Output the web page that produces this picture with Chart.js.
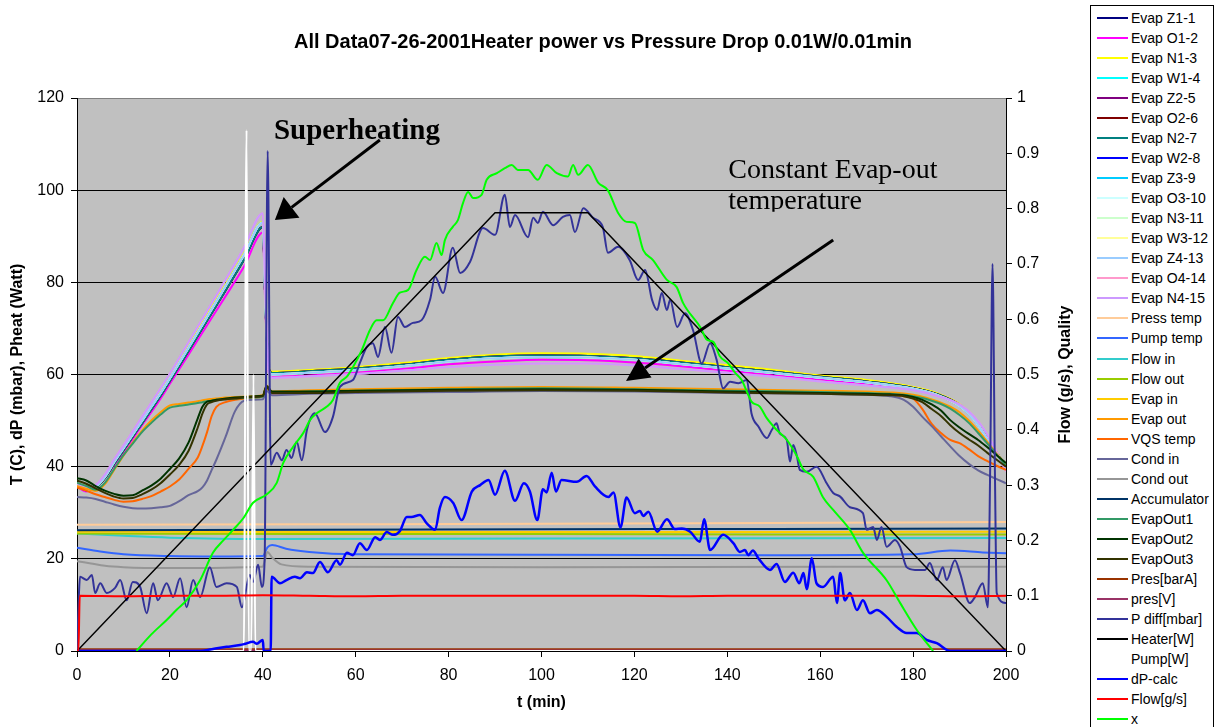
<!DOCTYPE html>
<html>
<head>
<meta charset="utf-8">
<script src="https://cdn.jsdelivr.net/npm/chart.js@4.4.0/dist/chart.umd.min.js"></script>
<style>
  body { margin: 0; background: #fff; }
  #wrap { position: relative; width: 1221px; height: 727px; overflow: hidden; }
  #legend { position: absolute; left: 1090px; top: 5px; width: 124px; height: 740px;
            border: 1px solid #000; box-sizing: border-box; background: #fff;
            font-family: "Liberation Sans", Arial, sans-serif; font-size: 14px; color: #000; }
  .item { position: absolute; left: 0; height: 20px; width: 122px; }
  .item span.ln { position: absolute; left: 6px; top: 9px; width: 31px; height: 2px; }
  .item span.tx { position: absolute; left: 40px; top: 2px; white-space: nowrap; }
</style>
</head>
<body>
<div id="wrap">
  <canvas id="c" width="1221" height="727"></canvas>
  <div id="legend"></div>
</div>
<script>
// ---- data ----
const evapT    = [0, 2, 4, 6, 8, 10, 12, 14, 16, 18, 20, 24, 28, 32, 36, 40, 40.6, 41.3, 42, 50,
                  60, 70, 80, 90, 100, 110, 120, 130, 140, 150, 160, 170, 180, 185, 190, 193, 196, 200];
const evapTop  = [36.3, 35.2, 35.8, 38.0, 41.2, 44.2, 47.2, 50.3, 53.3, 56.4, 59.5, 66.2, 72.9, 79.6, 86.3, 93.2, 75.0, 61.5, 60.6, 61.0,
                  61.6, 62.5, 63.6, 64.3, 64.6, 64.5, 64.0, 63.0, 62.0, 61.0, 59.8, 58.8, 57.3, 56.0, 53.6, 50.8, 46.3, 40.0];
const evapDark = [35.9, 34.9, 35.4, 37.5, 40.6, 43.5, 46.5, 49.4, 52.4, 55.4, 58.6, 65.1, 71.7, 78.3, 85.0, 92.0, 74.0, 61.3, 60.3, 60.7,
                  61.3, 62.1, 63.2, 63.9, 64.1, 64.0, 63.5, 62.6, 61.6, 60.6, 59.5, 58.5, 57.1, 55.8, 53.4, 50.6, 46.1, 39.9];
const evapMid  = [36.0, 35.0, 35.6, 37.8, 41.0, 44.0, 47.0, 50.0, 53.0, 56.0, 59.2, 65.8, 72.5, 79.2, 86.0, 93.0, 74.5, 61.0, 60.0, 60.4,
                  61.0, 61.8, 62.8, 63.5, 63.8, 63.7, 63.2, 62.3, 61.3, 60.3, 59.3, 58.3, 56.9, 55.6, 53.2, 50.4, 46.0, 39.8];
const evapMag  = [35.7, 34.6, 35.7, 37.6, 40.3, 43.0, 46.0, 49.0, 51.8, 54.8, 58.0, 64.3, 70.7, 77.0, 83.5, 90.8, 73.0, 60.5, 59.5, 59.8,
                  60.4, 61.2, 62.2, 62.8, 63.2, 63.1, 62.6, 61.8, 60.8, 59.8, 58.9, 58.0, 56.7, 55.5, 53.3, 50.6, 46.3, 39.5];
const evapVio  = [36.4, 35.4, 36.0, 38.3, 41.6, 44.6, 47.7, 50.8, 53.9, 57.0, 60.2, 67.0, 73.8, 80.6, 87.6, 95.0, 76.0, 60.5, 59.3, 59.6,
                  60.1, 60.8, 61.6, 62.1, 62.4, 62.4, 62.0, 61.2, 60.4, 59.5, 58.5, 57.6, 56.6, 55.4, 53.5, 51.0, 47.0, 39.0];

const outT     = [0, 2, 4, 6, 8, 10, 12, 14, 16, 18, 20, 22, 24, 26, 27, 28, 29, 30, 32, 34, 36, 38, 40,
                  40.8, 42, 50, 60, 80, 100, 120, 140, 160, 170, 175, 178, 180, 182, 184, 186, 188, 190, 192, 194, 196, 198, 200];
const evapOut1 = [36.5, 35.8, 35.0, 36.5, 39.5, 42.5, 45.0, 47.5, 49.5, 51.3, 52.8, 53.2, 53.5, 53.8, 54.0, 54.2, 54.3, 54.5, 54.7, 54.8, 54.9, 55.0, 55.2,
                  57.3, 56.0, 56.3, 56.5, 56.8, 57.0, 56.8, 56.5, 56.2, 56.0, 55.8, 55.6, 55.3, 54.9, 54.3, 53.6, 52.6, 51.2, 49.5, 47.3, 45.0, 42.6, 40.2];
const evapOutO = [35.8, 35.2, 34.7, 36.2, 39.3, 42.4, 45.2, 47.8, 50.0, 51.8, 53.3, 53.6, 53.9, 54.2, 54.4, 54.6, 54.7, 54.8, 55.0, 55.1, 55.2, 55.3, 55.5,
                  57.6, 56.3, 56.6, 56.8, 57.1, 57.3, 57.1, 56.8, 56.5, 56.3, 56.1, 55.9, 55.6, 55.2, 54.6, 53.9, 53.0, 51.8, 50.0, 47.8, 45.4, 42.8, 40.4];
const evapOut2 = [37.5, 37.0, 35.8, 34.8, 34.1, 33.7, 33.8, 34.8, 35.9, 37.4, 39.5, 41.8, 45.2, 50.5, 53.0, 54.1, 54.3, 54.5, 54.8, 55.0, 55.1, 55.3, 55.4,
                  57.5, 56.3, 56.3, 56.5, 56.7, 56.8, 56.7, 56.3, 56.0, 55.8, 55.7, 55.5, 55.1, 54.5, 53.5, 52.2, 50.1, 48.5, 47.1, 45.8, 44.2, 42.5, 40.8];
const evapOut3 = [37.0, 36.3, 35.3, 34.3, 33.5, 33.1, 33.2, 34.0, 35.0, 36.4, 38.3, 40.4, 43.4, 48.5, 51.5, 53.5, 54.0, 54.3, 54.6, 54.8, 55.0, 55.1, 55.3,
                  57.3, 56.0, 56.0, 56.2, 56.5, 56.6, 56.5, 56.1, 55.8, 55.6, 55.5, 55.3, 54.8, 54.0, 52.5, 51.0, 49.0, 47.3, 45.9, 44.6, 43.0, 41.5, 40.0];
const vqsTemp  = [35.5, 34.8, 34.0, 33.4, 32.8, 32.4, 32.5, 33.0, 33.6, 34.6, 35.7, 37.2, 39.5, 42.0, 44.5, 47.5, 51.0, 53.0, 54.0, 54.5, 54.8, 55.0, 55.2,
                  57.0, 55.8, 56.0, 56.2, 56.4, 56.6, 56.5, 56.2, 56.0, 55.8, 55.5, 55.3, 54.8, 52.5, 49.3, 47.3, 45.8, 45.1, 43.8, 42.3, 41.2, 40.2, 39.3];
const condIn   = [33.4, 33.3, 33.0, 32.4, 31.8, 31.3, 31.0, 30.9, 31.0, 31.2, 31.5, 32.5, 33.8, 34.7, 35.5, 37.0, 39.3, 41.5, 46.5, 52.0, 54.3, 54.5, 54.6,
                  56.5, 55.5, 55.8, 56.0, 56.2, 56.4, 56.3, 56.0, 55.8, 55.6, 55.3, 54.5, 53.0, 50.8, 48.8, 46.6, 44.4, 42.3, 40.6, 39.2, 38.2, 37.3, 36.4];

const flatT     = [0, 50, 100, 150, 200];
const pressTemp = [27.4, 27.5, 27.6, 27.8, 28.0];
const accum     = [26.2, 26.3, 26.4, 26.5, 26.6];
const evapIn    = [25.9, 25.8, 25.8, 25.8, 25.9];
const flowOut   = [25.5, 25.4, 25.4, 25.3, 25.3];
const presBar   = [0.4, 0.4, 0.4, 0.4, 0.4];
const presV     = [0.1, 0.1, 0.1, 0.1, 0.1];
const flowInT   = [0, 10, 20, 40, 100, 200];
const flowIn    = [25.5, 25.0, 24.6, 24.3, 24.4, 24.5];
const pumpTempT = [0, 5, 10, 20, 30, 40, 41, 42, 45, 50, 60, 100, 150, 180, 188, 195, 200];
const pumpTemp  = [22.4, 21.6, 21.0, 20.6, 20.5, 20.6, 22.5, 23.0, 22.2, 21.5, 21.0, 20.9, 20.8, 21.0, 21.8, 21.4, 21.2];
const condOutT  = [0, 3, 6, 10, 20, 40, 40.5, 41, 42, 44, 50, 100, 200];
const condOut   = [19.5, 19.0, 18.5, 18.2, 18.0, 18.3, 20.0, 21.5, 20.3, 18.8, 18.3, 18.2, 18.3];

const pdT = [0, 0.4, 0.65, 2.1, 3.2, 3.9, 5, 6.4, 8.2, 9.3,
             10.7, 12, 13.6, 15, 16.4, 17.4, 19.3, 20.7, 22.2, 23.6,
             25, 26.5, 28.6, 30, 32.2, 34.4, 35.5, 37.2, 37.9, 39,
             39.8, 40.4, 41.05, 41.7, 43, 44.1, 45.1, 46.2, 47.3, 48.4,
             49.5, 51.2, 53.4, 55.1, 56.6, 59.4, 60.9, 62.4, 63.7, 64.8,
             66.3, 67.7, 69.1, 70.6, 72.3, 74.2, 76, 77.1, 78.8, 80.9,
             82.5, 84.6, 87.4, 90, 92.1, 93.2, 94.3, 97.1, 98.2, 99.2,
             100.3, 102.5, 104.6, 106.1, 107.2, 109, 111.1, 113.2, 114.3, 116.5,
             119, 120.8, 122.3, 123.8, 124.9, 125.9, 127, 127.7, 129.2, 130.9,
             132.6, 134.5, 136.3, 137.7, 139.1, 140.6, 142.4, 144.2, 145.2, 146.7,
             148.5, 149.6, 150.6, 151.3, 152.8, 153.5, 154.2, 155, 155.6, 157.1,
             159.2, 161.4, 162.8, 164.3, 166.4, 169.2, 170, 171.4, 172.2, 173.2,
             174.3, 176.1, 177.2, 178.6, 180.4, 182.6, 183.6, 185.1, 186.4, 187.2,
             189, 190.1, 192.2, 193.3, 195, 196.1, 196.6, 197.1, 197.6, 198,
             200];
const pdV = [0, 12, 16.1, 15.4, 16.5, 12.6, 14.7, 12.6, 13.7, 15.4,
             11, 15, 13.9, 8.2, 14.7, 11, 14.7, 11.7, 15.8, 9.5,
             15.4, 11.7, 18.2, 13.9, 14.7, 13.9, 9.5, 16.5, 15, 18.7,
             13.9, 20, 108.5, 40.4, 43, 41.4, 43.6, 41.9, 45.4, 41.4,
             48, 51.6, 47.5, 50.8, 57.3, 58.8, 62.5, 66, 66.8, 63.8,
             70.3, 64.7, 72.5, 70.3, 71.2, 71.8, 76.2, 81.2, 77.7, 87.5,
             82, 84.4, 91.8, 90.3, 99, 92, 94.6, 89.8, 94, 92.9,
             95.3, 92.4, 94.2, 94.6, 90.9, 96.1, 94, 92, 86.4, 87.7,
             84.8, 80.5, 82.7, 76.2, 74, 77.7, 74, 76.2, 70.3, 73.3,
             69.7, 62.4, 66.8, 63.2, 57, 58.4, 58.1, 58.8, 51.6, 48.7,
             46.2, 48, 49.4, 47.2, 45.8, 41.1, 44.7, 42.2, 39.3, 38.9,
             40, 36.4, 34.3, 33.5, 31.2, 29.9, 26.3, 26.9, 24.1, 26.9,
             22.6, 24.1, 22.6, 18.2, 17.6, 17.6, 19.1, 15.4, 18.2, 15.4,
             19.7, 16.9, 10.4, 11.7, 14.7, 9.5, 40, 84, 40, 12.6,
             10.4];

const heaterT = [0, 90, 110, 200];
const heaterW = [0, 95.1, 95.1, 0];

const pumpWT = [0, 35.9, 36.5, 37.0, 37.5, 38.0, 38.4, 200];
const pumpW  = [0, 0, 113, 0, 0, 60, 0, 0];

const dpT = [0, 26.5, 29, 32.2, 35.1, 36, 37.9, 38.7, 40, 40.2,
             41.7, 41.9, 43.7, 45.1, 46.9, 48, 49.5, 50.8, 52.3, 54,
             55.9, 56.6, 58.1, 59.4, 60.9, 62.4, 64.2, 65.2, 66.7, 68,
             69.5, 71, 72, 73.8, 75.3, 77.1, 78.1, 79.2, 81, 82.8,
             85, 86.8, 88.6, 90, 92.1, 94.3, 96.2, 97.5, 99.1, 100.3,
             101.1, 102.2, 103.1, 104.3, 107.6, 109.7, 111.5, 114.4, 115.5, 117,
             118.3, 120.1, 121.2, 121.9, 123, 124.9, 127, 128.7, 130.2, 132,
             134.1, 135, 136.3, 139.1, 141.3, 142.7, 143.8, 144.5, 145.5, 146.7,
             149.2, 150.6, 152.4, 154.2, 155.5, 156.4, 157.1, 158.2, 159.2, 160.6,
             162.8, 163.6, 164.3, 165.3, 166.4, 167.9, 169.2, 170.7, 172.2, 174.3,
             176.5, 178.6, 180.8, 182.9, 185.1, 188, 200];
const dpV = [0, 0, 0.4, 0.9, 1.3, 1.5, 2.0, 1.6, 2.4, 0,
             0, 16.1, 14.7, 15.4, 16.1, 15.8, 17.1, 16.9, 19.3, 17.1,
             19.7, 18.7, 21.3, 20.8, 23.4, 21.9, 24.7, 24.1, 25.8, 25.2,
             26, 29.1, 29.1, 29.5, 27.7, 26.3, 31, 33.4, 32.1, 28.4,
             34.6, 36, 37.1, 33.9, 39.1, 32.6, 36.4, 34.6, 28.4, 35.1,
             34.4, 38.7, 34.6, 37.1, 36.7, 38, 35.7, 33.4, 34.4, 26.8,
             33.3, 29.9, 30.4, 29.3, 30.2, 25.9, 28.6, 26.5, 26.6, 25.9,
             23.7, 28.6, 21.9, 25.2, 23.4, 21.5, 21.9, 20.8, 21.8, 20.1,
             17.6, 18.9, 15, 17, 14.7, 16.9, 13.4, 20.1, 14.7, 13.9,
             16.1, 10.4, 16.9, 11, 12.6, 8.9, 11, 8.2, 8.9, 7.4,
             5.2, 3.9, 3.9, 2.4, 1.7, 0, 0];

// right axis series (g/s and quality)
const flowT  = [0, 0.3, 0.6, 10, 20, 30, 40, 50, 60, 70, 80, 90, 100, 110, 120, 130, 140, 150, 160, 170, 180, 190, 200];
const flowGs = [0, 0, 0.1, 0.099, 0.1, 0.1, 0.101, 0.1, 0.099, 0.1, 0.1, 0.1, 0.1, 0.1, 0.1, 0.099, 0.1, 0.1, 0.1, 0.1, 0.1, 0.099, 0.1];

const xT = [12.8, 16, 19.3, 21.5, 23.6, 26.5, 29.3, 31.5, 33.6, 35.8,
            37.9, 40.8, 43, 44.4, 46.5, 48.7, 50.2, 51.6, 53.8, 55.1,
            56.6, 58.1, 59.4, 61.3, 63.1, 64.5, 65.9, 68, 69.5, 71.3,
            73.1, 74.9, 76, 77.4, 78.5, 79.2, 80.9, 82, 83.1, 84.2,
            85.3, 87.1, 88.2, 90.4, 92.1, 93.6, 94.9, 97.1, 99.2, 101.1,
            103.3, 105.7, 106.8, 107.9, 110, 112.2, 114.3, 116.5, 118.3, 120.1,
            121.9, 124, 127, 129.1, 130.5, 134.3, 135.6, 137, 138.4, 140.2,
            141.7, 143.1, 144.2, 145.2, 147, 148.5, 150.6, 152.8, 155, 156.4,
            158.5, 160.6, 162.8, 166.4, 169.2, 174.3, 177.2, 180.8, 184.3];
const xQ = [0, .03, .056, .075, .092, .128, .178, .2, .219, .24,
            .268, .283, .304, .34, .369, .394, .418, .43, .442, .454,
            .485, .496, .513, .544, .581, .598, .598, .629, .648, .653,
            .689, .713, .707, .738, .716, .743, .767, .779, .81, .83,
            .819, .825, .852, .864, .873, .879, .87, .87, .852, .879,
            .864, .858, .879, .861, .879, .847, .833, .792, .776, .774,
            .725, .707, .671, .658, .629, .584, .563, .559, .533, .52,
            .503, .49, .469, .451, .442, .421, .4, .382, .352, .328,
            .315, .278, .255, .219, .178, .128, .087, .038, 0];

// label, colour, times, values, axis, width
const series = [
  ['Evap Z1-1', '#000080', evapT, evapDark, 'y', 2],
  ['Evap O1-2', '#FF00FF', evapT, evapMag, 'y', 2],
  ['Evap N1-3', '#FFFF00', evapT, evapTop, 'y', 2],
  ['Evap W1-4', '#00FFFF', evapT, evapMid, 'y', 2],
  ['Evap Z2-5', '#800080', evapT, evapDark, 'y', 2],
  ['Evap O2-6', '#800000', evapT, evapDark, 'y', 2],
  ['Evap N2-7', '#008080', evapT, evapDark, 'y', 2],
  ['Evap W2-8', '#0000FF', evapT, evapMid, 'y', 2],
  ['Evap Z3-9', '#00CCFF', evapT, evapMid, 'y', 2],
  ['Evap O3-10', '#CCFFFF', evapT, evapMid, 'y', 2],
  ['Evap N3-11', '#CCFFCC', evapT, evapMid, 'y', 2],
  ['Evap W3-12', '#FFFF99', evapT, evapMid, 'y', 2],
  ['Evap Z4-13', '#99CCFF', evapT, evapMid, 'y', 2],
  ['Evap O4-14', '#FF99CC', evapT, evapVio, 'y', 2],
  ['Evap N4-15', '#CC99FF', evapT, evapVio, 'y', 2],
  ['Press temp', '#FFCC99', flatT, pressTemp, 'y', 2],
  ['Pump temp', '#3366FF', pumpTempT, pumpTemp, 'y', 2],
  ['Flow in', '#33CCCC', flowInT, flowIn, 'y', 2],
  ['Flow out', '#99CC00', flatT, flowOut, 'y', 2],
  ['Evap in', '#FFCC00', flatT, evapIn, 'y', 2],
  ['Evap out', '#FF9900', outT, evapOutO, 'y', 2],
  ['VQS temp', '#FF6600', outT, vqsTemp, 'y', 2],
  ['Cond in', '#666699', outT, condIn, 'y', 2],
  ['Cond out', '#969696', condOutT, condOut, 'y', 2],
  ['Accumulator', '#003366', flatT, accum, 'y', 2],
  ['EvapOut1', '#339966', outT, evapOut1, 'y', 2],
  ['EvapOut2', '#003300', outT, evapOut2, 'y', 2],
  ['EvapOut3', '#333300', outT, evapOut3, 'y', 2],
  ['Pres[barA]', '#993300', flatT, presBar, 'y', 2],
  ['pres[V]', '#993366', flatT, presV, 'y', 2],
  ['P diff[mbar]', '#333399', pdT, pdV, 'y', 2],
  ['Heater[W]', '#000000', heaterT, heaterW, 'y', 1.5],
  ['Pump[W]', '#FFFFFF', pumpWT, pumpW, 'y', 2],
  ['dP-calc', '#0000FF', dpT, dpV, 'y', 2.5],
  ['Flow[g/s]', '#FF0000', flowT, flowGs, 'y1', 2],
  ['x', '#00FF00', xT, xQ, 'y1', 2]
];

const family = '"Liberation Sans", Arial, sans-serif';
const serif = '"Liberation Serif", "Times New Roman", serif';

const datasets = series.map((s, i) => ({
  label: s[0],
  data: s[2].map((t, k) => ({ x: t, y: s[3][k] })),
  borderColor: s[1],
  backgroundColor: s[1],
  borderWidth: s[5],
  yAxisID: s[4],
  fill: false,
  pointRadius: 0,
  cubicInterpolationMode: s[0] === 'Heater[W]' ? 'default' : 'monotone',
  tension: 0,
  order: series.length - i
}));

// html legend
const lg = document.getElementById('legend');
series.forEach((s, i) => {
  const d = document.createElement('div');
  d.className = 'item';
  d.style.top = (18 + i * 20.03 - 5 - 1 - 10) + 'px';
  d.innerHTML = '<span class="ln" style="background:' + s[1] + '"></span><span class="tx">' + s[0] + '</span>';
  lg.appendChild(d);
});

function arrow(ctx, x0, y0, x1, y1, L, W) {
  const a = Math.atan2(y1 - y0, x1 - x0);
  const bx = x1 - L * Math.cos(a), by = y1 - L * Math.sin(a);
  ctx.beginPath(); ctx.moveTo(x0, y0); ctx.lineTo(bx, by); ctx.lineWidth = 3; ctx.stroke();
  ctx.beginPath();
  ctx.moveTo(x1, y1);
  ctx.lineTo(bx + W * Math.sin(a), by - W * Math.cos(a));
  ctx.lineTo(bx - W * Math.sin(a), by + W * Math.cos(a));
  ctx.closePath(); ctx.fill();
}

const decor = {
  id: 'decor',
  beforeDraw(c) {
    const ctx = c.ctx, a = c.chartArea;
    ctx.save();
    ctx.fillStyle = '#fff';
    ctx.fillRect(0, 0, c.width, c.height);
    ctx.fillStyle = '#C0C0C0';
    ctx.fillRect(a.left, a.top, a.right - a.left, a.bottom - a.top);
    ctx.restore();
  },
  afterDraw(c) {
    const ctx = c.ctx, xs = c.scales.x, ys = c.scales.y;
    ctx.save();
    ctx.fillStyle = '#000'; ctx.strokeStyle = '#000';
    // title
    ctx.font = 'bold 20px ' + family;
    ctx.textAlign = 'center'; ctx.textBaseline = 'middle';
    ctx.fillText('All Data07-26-2001Heater power vs Pressure Drop 0.01W/0.01min', 603, 42);
    // right axis title, reads bottom to top
    ctx.save();
    ctx.translate(1066, (c.chartArea.top + c.chartArea.bottom) / 2);
    ctx.rotate(-Math.PI / 2);
    ctx.font = 'bold 16px ' + family;
    ctx.fillText('Flow (g/s), Quality', 0, 0);
    ctx.restore();
    // annotations
    ctx.textAlign = 'left'; ctx.textBaseline = 'alphabetic';
    ctx.font = 'bold 29px ' + serif;
    ctx.fillText('Superheating', xs.getPixelForValue(42.4), ys.getPixelForValue(111.1));
    arrow(ctx, xs.getPixelForValue(65.2), ys.getPixelForValue(110.9),
               xs.getPixelForValue(42.6), ys.getPixelForValue(93.5), 21, 13);
    ctx.save();
    const clipBottom = ys.getPixelForValue(95.3);
    ctx.beginPath(); ctx.rect(0, 0, c.width, clipBottom); ctx.clip();
    ctx.font = '28px ' + serif;
    ctx.fillText('Constant Evap-out', xs.getPixelForValue(140.2), ys.getPixelForValue(102.7));
    ctx.fillText('temperature', xs.getPixelForValue(140.2), ys.getPixelForValue(95.9));
    ctx.restore();
    arrow(ctx, xs.getPixelForValue(162.8), ys.getPixelForValue(89.2),
               xs.getPixelForValue(118.2), ys.getPixelForValue(58.6), 23, 11.5);
    ctx.restore();
  }
};

new Chart(document.getElementById('c'), {
  type: 'line',
  data: { datasets },
  plugins: [decor],
  options: {
    responsive: false,
    animation: false,
    devicePixelRatio: 1,
    layout: { padding: { left: 0, right: 136, top: 98, bottom: 0 } },
    plugins: { legend: { display: false }, tooltip: { enabled: false }, title: { display: false } },
    scales: {
      x: {
        type: 'linear', min: 0, max: 200,
        afterFit: s => { s.height = 76; },
        ticks: { stepSize: 20, color: '#000', font: { size: 16, family }, padding: 9, maxRotation: 0 },
        grid: { drawOnChartArea: false, tickLength: 6, color: '#000' },
        border: { color: '#000' },
        title: { display: true, text: 't (min)', color: '#000', font: { size: 16, weight: 'bold', family }, padding: { top: 0, bottom: 14.4 } }
      },
      y: {
        position: 'left', min: 0, max: 120,
        afterFit: s => { s.width = 77; },
        ticks: { stepSize: 20, color: '#000', font: { size: 16, family }, padding: 7 },
        grid: { color: ctx => ctx.tick && ctx.tick.value === 120 ? '#808080' : '#000', tickColor: '#000', tickLength: 6 },
        border: { color: '#000' },
        title: { display: true, text: 'T (C), dP (mbar), Pheat (Watt)', color: '#000', font: { size: 16, weight: 'bold', family }, padding: { top: 8.4, bottom: 0 } }
      },
      y1: {
        position: 'right', min: 0, max: 1,
        afterFit: s => { s.width = 79; },
        ticks: { stepSize: 0.1, color: '#000', font: { size: 16, family }, padding: 5, callback: v => String(+v.toFixed(1)) },
        grid: { drawOnChartArea: false, tickLength: 6, color: '#000' },
        border: { color: '#000' }
      }
    }
  }
});
</script>
</body>
</html>
